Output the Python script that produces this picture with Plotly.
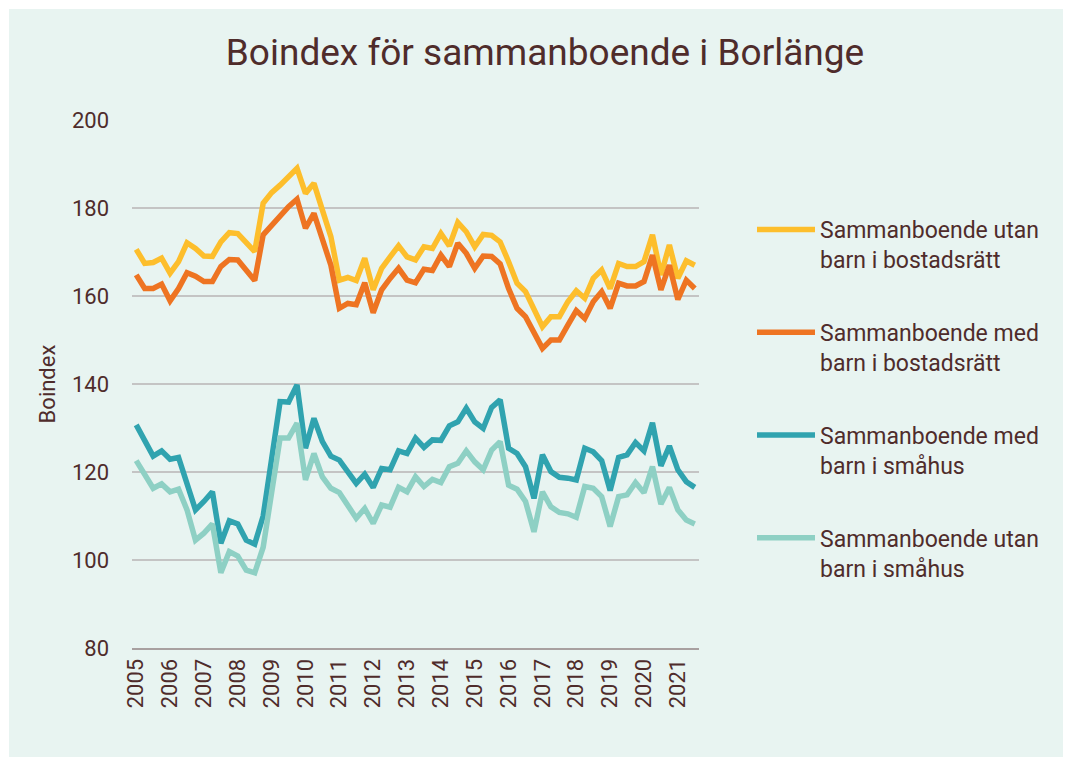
import plotly.graph_objects as go

years = list(range(2005, 2022))
quarters = [f"{y} Q{q}" for y in years for q in range(1, 5)][:67]

utan_bostadsratt = [170.6, 167.4, 167.6, 168.6, 165.2, 167.8, 172.1, 170.8, 169.1, 169.0,
                    172.3, 174.4, 174.2, 172.1, 170.1, 181.1, 183.5, 185.2, 187.1, 189.0,
                    183.3, 185.6, 179.5, 173.5, 163.6, 164.2, 163.5, 168.6, 161.4, 166.3,
                    168.9, 171.4, 168.9, 168.2, 171.2, 170.8, 174.2, 171.4, 176.7, 174.6,
                    171.2, 174.0, 173.8, 172.3, 167.8, 162.9, 161.0, 157.2, 153.0, 155.3,
                    155.3, 158.7, 161.2, 159.5, 164.0, 165.9, 161.7, 167.4, 166.7, 166.7,
                    167.8, 173.9, 164.8, 171.6, 164.0, 168.0, 167.0]
med_bostadsratt = [164.8, 161.7, 161.7, 162.7, 158.9, 161.7, 165.3, 164.5, 163.3, 163.3,
                   166.7, 168.3, 168.2, 165.9, 163.5, 173.9, 176.1, 178.4, 180.3, 182.0,
                   175.4, 178.8, 173.1, 167.0, 157.2, 158.3, 158.0, 163.0, 156.2, 161.4,
                   164.0, 166.3, 163.6, 163.0, 166.1, 165.8, 169.3, 166.7, 172.0, 169.7,
                   166.3, 169.1, 169.0, 167.3, 161.7, 157.2, 155.3, 151.5, 148.1, 150.0,
                   150.0, 153.4, 156.7, 154.9, 158.7, 161.0, 157.2, 162.9, 162.3, 162.3,
                   163.3, 169.3, 161.4, 167.0, 159.2, 163.6, 161.7]
med_smahus = [130.7, 126.9, 123.6, 124.8, 122.9, 123.3, 117.4, 111.4, 113.3, 115.5,
              103.8, 108.9, 108.2, 104.5, 103.6, 110.0, 123.0, 136.0, 135.9, 139.8,
              125.4, 132.2, 126.9, 123.6, 122.7, 120.1, 117.4, 119.5, 116.5, 120.8,
              120.5, 124.8, 124.2, 127.7, 125.6, 127.3, 127.2, 130.5, 131.4, 134.5,
              131.4, 129.9, 134.7, 136.4, 125.4, 124.2, 121.2, 114.0, 123.9, 120.1,
              118.8, 118.6, 118.2, 125.4, 124.6, 122.6, 115.8, 123.3, 123.9, 126.7,
              124.8, 131.2, 121.4, 125.9, 120.5, 117.8, 116.5]
utan_smahus = [122.6, 119.3, 116.3, 117.3, 115.5, 116.1, 111.4, 104.5, 106.1, 108.2,
               97.1, 101.9, 100.9, 97.7, 97.1, 102.9, 116.0, 127.7, 127.7, 131.1,
               118.2, 124.2, 118.9, 116.3, 115.3, 112.5, 109.5, 111.7, 108.3, 112.5,
               112.0, 116.5, 115.5, 118.9, 116.7, 118.3, 117.6, 121.2, 122.0, 124.8,
               122.3, 120.5, 125.0, 126.9, 117.0, 116.1, 113.3, 106.4, 115.5, 112.1,
               110.8, 110.5, 109.7, 116.7, 116.3, 114.4, 107.6, 114.4, 114.8, 117.6,
               115.3, 121.2, 112.7, 116.5, 111.4, 109.1, 108.2]

series = [
    ("Sammanboende utan<br>barn i bostadsrätt", utan_bostadsratt, "#FDBE2C"),
    ("Sammanboende med<br>barn i bostadsrätt", med_bostadsratt, "#EE7422"),
    ("Sammanboende med<br>barn i småhus", med_smahus, "#30A3AF"),
    ("Sammanboende utan<br>barn i småhus", utan_smahus, "#8ED0C4"),
]

text_color = "#4F2C2B"
bg = "#E8F4F1"

x_idx = list(range(len(quarters)))
fig = go.Figure()
for i, (name, vals, col) in enumerate(series):
    fig.add_trace(go.Scatter(
        x=x_idx, y=vals, mode="lines", name=name,
        line=dict(color=col, width=5.5), legendgroup=f"g{i}",
        customdata=quarters, hovertemplate="%{customdata}: %{y}<extra></extra>",
    ))

# page body has an 8px margin; work in page coordinates and shift
OFF = 8
W, H = 1071 - OFF, 757 - OFF
L, R, T, B = 132 - OFF, 699 - OFF, 120 - OFF, 648 - OFF


def px(xp):
    return (xp - OFF - L) / (R - L)


def py(yp):
    return (B - (yp - OFF)) / (B - T)


fig.add_shape(type="rect", xref="paper", yref="paper",
              x0=px(9), x1=px(1075), y0=py(760), y1=py(9),
              fillcolor=bg, line=dict(width=0), layer="below")

fig.update_layout(
    width=W, height=H,
    margin=dict(l=L, r=W - R, t=T, b=H - B),
    paper_bgcolor="white", plot_bgcolor="rgba(0,0,0,0)",
    font=dict(family="Roboto", color=text_color, size=22),
    title=dict(text="Boindex för sammanboende i Borlänge", xref="container",
               x=(545 - OFF) / W, xanchor="center",
               yref="container", y=1 - (52 - OFF) / H, yanchor="middle",
               font=dict(size=37, color=text_color, family="Roboto")),
    showlegend=True,
    legend=dict(x=px(752), xanchor="left", y=py(208), yanchor="top",
                bgcolor="rgba(0,0,0,0)", font=dict(size=23, color=text_color),
                traceorder="grouped", tracegroupgap=40, valign="top",
                itemwidth=58),
    xaxis=dict(range=[-0.5, len(quarters) - 0.5],
               tickmode="array", tickvals=[4 * k for k in range(len(years))],
               ticktext=[str(y) for y in years], tickangle=-90,
               showgrid=False, zeroline=False, showline=True,
               linecolor="#A8A0A0", linewidth=2, ticks="",
               tickfont=dict(size=22, color=text_color)),
    yaxis=dict(range=[80, 200], tickmode="array", tickvals=[80, 100, 120, 140, 160, 180, 200],
               showgrid=True, gridcolor="#C4C4C4", gridwidth=2, zeroline=False,
               ticks="", ticklabelstandoff=22,
               tickfont=dict(size=22, color=text_color),
               title=dict(text="Boindex", font=dict(size=22, color=text_color), standoff=10)),
)

fig.write_html("out.html")
